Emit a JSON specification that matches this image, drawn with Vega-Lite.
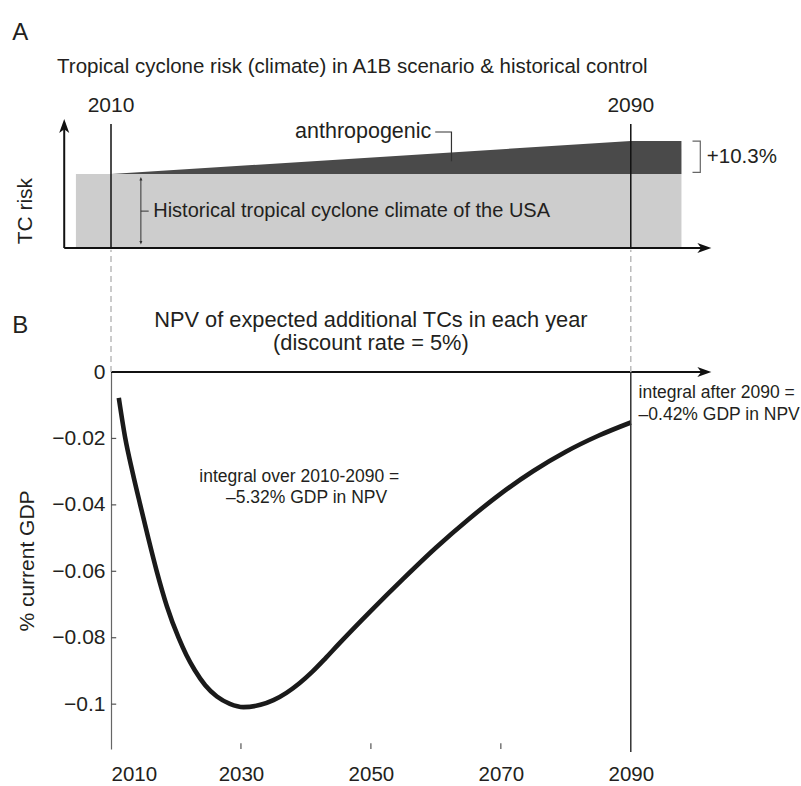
{
  "$schema": "https://vega.github.io/schema/vega-lite/v6.json",
  "padding": {"left": 12, "top": 21, "right": 4, "bottom": 0},
  "background": "white",
  "config": {
    "view": {"stroke": null},
    "font": "Liberation Sans",
    "text": {"font": "Liberation Sans", "color": "#231f20", "baseline": "middle"}
  },
  "datasets": {
    "risk": [
      {"year": 2004.6, "historical": 1.0, "scenario": 1.0},
      {"year": 2010, "historical": 1.0, "scenario": 1.0},
      {"year": 2090, "historical": 1.0, "scenario": 1.103},
      {"year": 2097.8, "historical": 1.0, "scenario": 1.103}
    ],
    "npv": [
      {"year": 2011.2, "value": -0.0078},
      {"year": 2012.2, "value": -0.0200},
      {"year": 2013.3, "value": -0.0300},
      {"year": 2014.5, "value": -0.0400},
      {"year": 2015.7, "value": -0.0497},
      {"year": 2017.0, "value": -0.0597},
      {"year": 2018.6, "value": -0.0705},
      {"year": 2020.4, "value": -0.0800},
      {"year": 2021.6, "value": -0.0852},
      {"year": 2022.9, "value": -0.0898},
      {"year": 2024.5, "value": -0.0943},
      {"year": 2026.3, "value": -0.0977},
      {"year": 2028.3, "value": -0.0999},
      {"year": 2030.4, "value": -0.1009},
      {"year": 2033.0, "value": -0.1002},
      {"year": 2035.0, "value": -0.0988},
      {"year": 2037.0, "value": -0.0966},
      {"year": 2039.0, "value": -0.0937},
      {"year": 2041.0, "value": -0.0902},
      {"year": 2043.0, "value": -0.0862},
      {"year": 2045.0, "value": -0.0820},
      {"year": 2050.0, "value": -0.0719},
      {"year": 2055.0, "value": -0.0622},
      {"year": 2060.0, "value": -0.0529},
      {"year": 2065.0, "value": -0.0444},
      {"year": 2070.0, "value": -0.0366},
      {"year": 2075.0, "value": -0.0298},
      {"year": 2080.0, "value": -0.0240},
      {"year": 2085.0, "value": -0.0192},
      {"year": 2090.0, "value": -0.0152}
    ],
    "markers": [
      {"year": 2010, "label": "2010"},
      {"year": 2090, "label": "2090"}
    ],
    "yticks": [
      {"value": -0.02}, {"value": -0.04}, {"value": -0.06}, {"value": -0.08}, {"value": -0.1}
    ],
    "xticks": [
      {"year": 2030}, {"year": 2050}, {"year": 2070}
    ]
  },
  "bounds": "flush",
  "spacing": 124,
  "vconcat": [
    {
      "width": 601,
      "height": 129,
      "layer": [
        {
          "data": {"name": "risk"},
          "mark": {"type": "area", "color": "#cdcdcd"},
          "encoding": {
            "x": {"field": "year", "type": "quantitative", "scale": {"domain": [2010, 2102.5], "nice": false, "zero": false}, "axis": null},
            "y": {"field": "historical", "type": "quantitative", "scale": {"domain": [0.76875, 1.171875], "nice": false, "zero": false}, "axis": null},
            "y2": {"datum": 0.76875}
          }
        },
        {
          "data": {"name": "risk"},
          "transform": [{"filter": "datum.year >= 2010"}],
          "mark": {"type": "area", "color": "#4a4a4a"},
          "encoding": {
            "x": {"field": "year", "type": "quantitative", "axis": null},
            "y": {"field": "scenario", "type": "quantitative", "axis": null},
            "y2": {"field": "historical"}
          }
        },
        {
          "data": {"name": "markers"},
          "mark": {"type": "rule", "color": "#111111", "strokeWidth": 1.5},
          "encoding": {
            "x": {"field": "year", "type": "quantitative", "axis": null},
            "y": {"datum": 1.15625, "type": "quantitative", "axis": null},
            "y2": {"datum": 0.76875}
          }
        },
        {
          "data": {"name": "markers"},
          "mark": {"type": "text", "fontSize": 21, "align": "center"},
          "encoding": {
            "x": {"field": "year", "type": "quantitative", "axis": null},
            "y": {"datum": 1.2125, "type": "quantitative", "axis": null},
            "text": {"field": "label"}
          }
        },
        {
          "data": {"values": [{}]},
          "mark": {"type": "rule", "color": "#111111", "strokeWidth": 2},
          "encoding": {
            "x": {"datum": 2002.8, "type": "quantitative", "axis": null},
            "x2": {"datum": 2101.0},
            "y": {"datum": 0.76875, "type": "quantitative", "axis": null}
          }
        },
        {
          "data": {"values": [{}]},
          "mark": {"type": "rule", "color": "#111111", "strokeWidth": 2},
          "encoding": {
            "x": {"datum": 2002.8, "type": "quantitative", "axis": null},
            "y": {"datum": 0.76875, "type": "quantitative", "axis": null},
            "y2": {"datum": 1.16}
          }
        },
        {
          "data": {"values": [{}]},
          "mark": {"type": "point", "shape": "M0,0L-2,-0.72L-1.45,0L-2,0.72Z", "size": 196, "filled": true, "color": "#111111", "opacity": 1},
          "encoding": {
            "x": {"datum": 2102.4, "type": "quantitative", "axis": null},
            "y": {"datum": 0.76875, "type": "quantitative", "axis": null}
          }
        },
        {
          "data": {"values": [{}]},
          "mark": {"type": "point", "shape": "M0,0L-0.72,2L0,1.45L0.72,2Z", "size": 196, "filled": true, "color": "#111111", "opacity": 1},
          "encoding": {
            "x": {"datum": 2002.8, "type": "quantitative", "axis": null},
            "y": {"datum": 1.171875, "type": "quantitative", "axis": null}
          }
        },
        {
          "data": {"values": [
            {"year": 2059.9, "risk": 1.1313, "step": 1},
            {"year": 2062.4, "risk": 1.1313, "step": 2},
            {"year": 2062.4, "risk": 1.04, "step": 3}
          ]},
          "mark": {"type": "line", "color": "#333333", "strokeWidth": 1.2},
          "encoding": {
            "x": {"field": "year", "type": "quantitative", "axis": null},
            "y": {"field": "risk", "type": "quantitative", "axis": null},
            "order": {"field": "step"}
          }
        },
        {
          "data": {"values": [
            {"year": 2099.5, "risk": 1.103, "step": 1},
            {"year": 2100.7, "risk": 1.103, "step": 2},
            {"year": 2100.7, "risk": 1.0053, "step": 3},
            {"year": 2099.5, "risk": 1.0053, "step": 4}
          ]},
          "mark": {"type": "line", "color": "#666666", "strokeWidth": 1.2},
          "encoding": {
            "x": {"field": "year", "type": "quantitative", "axis": null},
            "y": {"field": "risk", "type": "quantitative", "axis": null},
            "order": {"field": "step"}
          }
        },
        {
          "data": {"values": [{}]},
          "mark": {"type": "rule", "color": "#333333", "strokeWidth": 1},
          "encoding": {
            "x": {"datum": 2014.6, "type": "quantitative", "axis": null},
            "y": {"datum": 0.985, "type": "quantitative", "axis": null},
            "y2": {"datum": 0.785}
          }
        },
        {
          "data": {"values": [{}]},
          "mark": {"type": "rule", "color": "#333333", "strokeWidth": 1},
          "encoding": {
            "x": {"datum": 2014.6, "type": "quantitative", "axis": null},
            "x2": {"datum": 2015.8},
            "y": {"datum": 0.884, "type": "quantitative", "axis": null}
          }
        },
        {
          "data": {"values": [{}]},
          "mark": {"type": "point", "shape": "M0,0L-1,2.4L1,2.4Z", "size": 9, "filled": true, "color": "#333333", "opacity": 1},
          "encoding": {
            "x": {"datum": 2014.6, "type": "quantitative", "axis": null},
            "y": {"datum": 0.9906, "type": "quantitative", "axis": null}
          }
        },
        {
          "data": {"values": [{}]},
          "mark": {"type": "point", "shape": "M0,0L-1,-2.4L1,-2.4Z", "size": 9, "filled": true, "color": "#333333", "opacity": 1},
          "encoding": {
            "x": {"datum": 2014.6, "type": "quantitative", "axis": null},
            "y": {"datum": 0.7794, "type": "quantitative", "axis": null}
          }
        },
        {
          "data": {"values": [
            {"year": 1994.8, "risk": 1.44, "label": "A"}
          ]},
          "mark": {"type": "text", "fontSize": 24, "align": "left"},
          "encoding": {
            "x": {"field": "year", "type": "quantitative", "axis": null},
            "y": {"field": "risk", "type": "quantitative", "axis": null},
            "text": {"field": "label"}
          }
        },
        {
          "data": {"values": [
            {"year": 2001.7, "risk": 1.334, "label": "Tropical cyclone risk (climate) in A1B scenario & historical control"}
          ]},
          "mark": {"type": "text", "fontSize": 20.5, "align": "left"},
          "encoding": {
            "x": {"field": "year", "type": "quantitative", "axis": null},
            "y": {"field": "risk", "type": "quantitative", "axis": null},
            "text": {"field": "label"}
          }
        },
        {
          "data": {"values": [
            {"year": 2059.3, "risk": 1.1313, "label": "anthropogenic"}
          ]},
          "mark": {"type": "text", "fontSize": 21.5, "align": "right"},
          "encoding": {
            "x": {"field": "year", "type": "quantitative", "axis": null},
            "y": {"field": "risk", "type": "quantitative", "axis": null},
            "text": {"field": "label"}
          }
        },
        {
          "data": {"values": [
            {"year": 2101.7, "risk": 1.052, "label": "+10.3%"}
          ]},
          "mark": {"type": "text", "fontSize": 20.5, "align": "left"},
          "encoding": {
            "x": {"field": "year", "type": "quantitative", "axis": null},
            "y": {"field": "risk", "type": "quantitative", "axis": null},
            "text": {"field": "label"}
          }
        },
        {
          "data": {"values": [
            {"year": 2016.5, "risk": 0.884, "label": "Historical tropical cyclone climate of the USA"}
          ]},
          "mark": {"type": "text", "fontSize": 20, "align": "left"},
          "encoding": {
            "x": {"field": "year", "type": "quantitative", "axis": null},
            "y": {"field": "risk", "type": "quantitative", "axis": null},
            "text": {"field": "label"}
          }
        },
        {
          "data": {"values": [
            {"year": 1996.9, "risk": 0.884, "label": "TC risk"}
          ]},
          "mark": {"type": "text", "fontSize": 21, "align": "center", "angle": 270},
          "encoding": {
            "x": {"field": "year", "type": "quantitative", "axis": null},
            "y": {"field": "risk", "type": "quantitative", "axis": null},
            "text": {"field": "label"}
          }
        }
      ]
    },
    {
      "width": 601,
      "height": 377,
      "encoding": {
        "x": {
          "type": "quantitative",
          "scale": {"domain": [2010, 2102.5], "nice": false, "zero": false},
          "axis": {
            "values": [2010, 2030, 2050, 2070, 2090], "format": "d", "title": null,
            "domain": false, "grid": false, "ticks": false,
            "labelFont": "Liberation Sans", "labelFontSize": 20.5, "labelColor": "#231f20", "labelPadding": 15
          }
        },
        "y": {
          "type": "quantitative",
          "scale": {"domain": [-0.1135, 0], "nice": false, "zero": false},
          "axis": {
            "values": [0, -0.02, -0.04, -0.06, -0.08, -0.1], "format": "~g",
            "title": "% current GDP", "titleFont": "Liberation Sans", "titleFontSize": 21, "titleFontWeight": "normal", "titleColor": "#231f20", "titlePadding": 14,
            "grid": false, "domainColor": "#666666", "domainWidth": 1.2, "ticks": false,
            "labelFont": "Liberation Sans", "labelFontSize": 21, "labelColor": "#231f20", "labelPadding": 6
          }
        }
      },
      "layer": [
        {
          "data": {"name": "yticks"},
          "mark": {"type": "rule", "color": "#555555", "strokeWidth": 1.2},
          "encoding": {
            "x": {"datum": 2010},
            "x2": {"datum": 2010.8},
            "y": {"field": "value"}
          }
        },
        {
          "data": {"name": "xticks"},
          "mark": {"type": "rule", "color": "#555555", "strokeWidth": 1.2},
          "encoding": {
            "x": {"field": "year"},
            "y": {"datum": -0.1135},
            "y2": {"datum": -0.1118}
          }
        },
        {
          "data": {"name": "npv"},
          "mark": {"type": "line", "color": "#1a1a1a", "strokeWidth": 4.6, "interpolate": "monotone", "strokeCap": "butt"},
          "encoding": {
            "x": {"field": "year"},
            "y": {"field": "value"}
          }
        },
        {
          "data": {"values": [{}]},
          "mark": {"type": "rule", "color": "#111111", "strokeWidth": 2},
          "encoding": {
            "x": {"datum": 2010},
            "x2": {"datum": 2101.0},
            "y": {"datum": 0}
          }
        },
        {
          "data": {"values": [{}]},
          "mark": {"type": "point", "shape": "M0,0L-2,-0.72L-1.45,0L-2,0.72Z", "size": 196, "filled": true, "color": "#111111", "opacity": 1},
          "encoding": {
            "x": {"datum": 2102.4},
            "y": {"datum": 0}
          }
        },
        {
          "data": {"values": [{}]},
          "mark": {"type": "rule", "color": "#333333", "strokeWidth": 1.5},
          "encoding": {
            "x": {"datum": 2090},
            "y": {"datum": 0},
            "y2": {"datum": -0.1144}
          }
        },
        {
          "data": {"name": "markers"},
          "mark": {"type": "rule", "color": "#bbbbbb", "strokeWidth": 1.5, "strokeDash": [6, 4]},
          "encoding": {
            "x": {"field": "year"},
            "y": {"datum": 0},
            "y2": {"datum": 0.0368}
          }
        },
        {
          "data": {"values": [
            {"year": 1994.8, "value": 0.01398, "label": "B"}
          ]},
          "mark": {"type": "text", "fontSize": 24, "align": "left"},
          "encoding": {
            "x": {"field": "year"},
            "y": {"field": "value"},
            "text": {"field": "label"}
          }
        },
        {
          "data": {"values": [
            {"year": 2050, "value": 0.0158, "label": "NPV of expected additional TCs in each year"},
            {"year": 2050, "value": 0.00887, "label": "(discount rate = 5%)"}
          ]},
          "mark": {"type": "text", "fontSize": 21.8, "align": "center"},
          "encoding": {
            "x": {"field": "year"},
            "y": {"field": "value"},
            "text": {"field": "label"}
          }
        },
        {
          "data": {"values": [
            {"year": 2023.6, "value": -0.0317, "label": "integral over 2010-2090 ="},
            {"year": 2027.7, "value": -0.0380, "label": "–5.32% GDP in NPV"}
          ]},
          "mark": {"type": "text", "fontSize": 17.5, "align": "left"},
          "encoding": {
            "x": {"field": "year"},
            "y": {"field": "value"},
            "text": {"field": "label"}
          }
        },
        {
          "data": {"values": [
            {"year": 2091.2, "value": -0.0062, "label": "integral after 2090 ="},
            {"year": 2091.2, "value": -0.0128, "label": "–0.42% GDP in NPV"}
          ]},
          "mark": {"type": "text", "fontSize": 17.5, "align": "left"},
          "encoding": {
            "x": {"field": "year"},
            "y": {"field": "value"},
            "text": {"field": "label"}
          }
        }
      ]
    }
  ]
}
